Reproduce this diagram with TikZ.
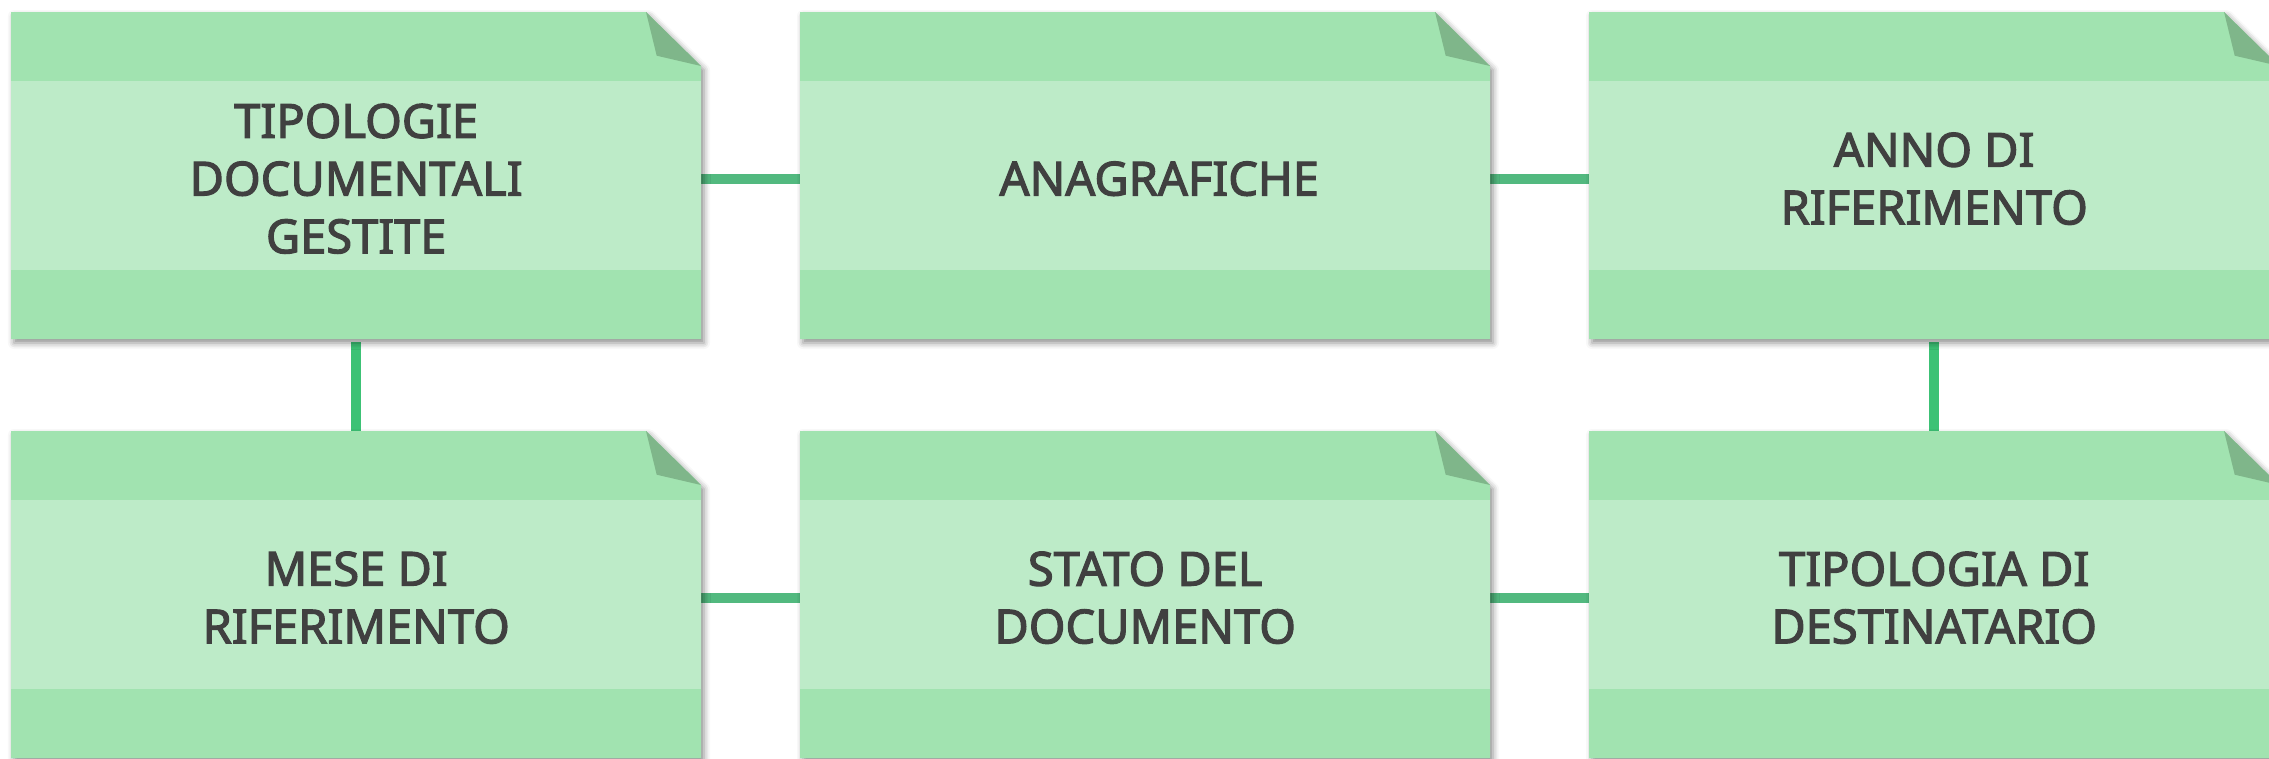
\documentclass[tikz,border=0pt]{standalone}
\usepackage{fontspec}
\setmainfont{Noto Sans}
\newfontfamily\lblfont[FakeBold=2.5]{Noto Sans}
\usetikzlibrary{shadows.blur}
\definecolor{bandc}{HTML}{A1E3B0}
\definecolor{midc}{HTML}{BDEBC8}
\definecolor{foldc}{HTML}{7FB68A}
\definecolor{hlinec}{HTML}{52B97F}
\definecolor{vlinec}{HTML}{3CC275}
\definecolor{txtc}{HTML}{404040}
\pgfdeclarelayer{bg}
\pgfdeclarelayer{cardl}
\pgfsetlayers{bg,cardl,main}
\tikzset{
  card/.style={anchor=north west, minimum width=690pt, minimum height=327pt,
    inner sep=0pt, align=center, text=txtc,
    font=\lblfont\fontsize{47}{57.7}\selectfont},
  hconn/.style={draw=hlinec, line width=10pt},
  vconn/.style={draw=vlinec, line width=10pt},
  cardshadow/.style={blur shadow={shadow xshift=3pt, shadow yshift=-4pt,
    shadow blur radius=6pt, shadow opacity=45}},
}
\newcommand\cardbody[1]{%
  \begin{scope}[shift={([yshift=3pt]#1.north west)}]
    \path[fill=bandc, cardshadow] (0,0) -- (635,0) -- (690,54) -- (690,327) -- (0,327) -- cycle;
    \fill[midc] (0,68.7) rectangle (690,257.5);
    \fill[foldc] (635,0) -- (645.7,43.7) -- (690,54) -- cycle;
  \end{scope}}
\begin{document}
\begin{tikzpicture}[x=1pt,y=-1pt]
  \useasboundingbox (0,0) rectangle (2269,758);
  \node[card] (c1) at (11,15) {TIPOLOGIE\\DOCUMENTALI\\GESTITE};
  \node[card] (c2) at (800,15) {\hspace*{28pt}ANAGRAFICHE};
  \node[card] (c3) at (1589,15) {ANNO DI\\RIFERIMENTO};
  \node[card] (c4) at (11,434) {MESE DI\\RIFERIMENTO};
  \node[card] (c5) at (800,434) {STATO DEL\\DOCUMENTO};
  \node[card] (c6) at (1589,434) {TIPOLOGIA DI\\DESTINATARIO};
  \begin{pgfonlayer}{cardl}
    \cardbody{c1}\cardbody{c2}\cardbody{c3}
    \cardbody{c4}\cardbody{c5}\cardbody{c6}
  \end{pgfonlayer}
  \begin{pgfonlayer}{bg}
    \draw[hconn] (c1) -- (c2);
    \draw[hconn] (c2) -- (c3);
    \draw[hconn] (c4) -- (c5);
    \draw[hconn] (c5) -- (c6);
    \draw[vconn] (c1) -- (c4);
    \draw[vconn] (c3) -- (c6);
  \end{pgfonlayer}
\end{tikzpicture}
\end{document}
